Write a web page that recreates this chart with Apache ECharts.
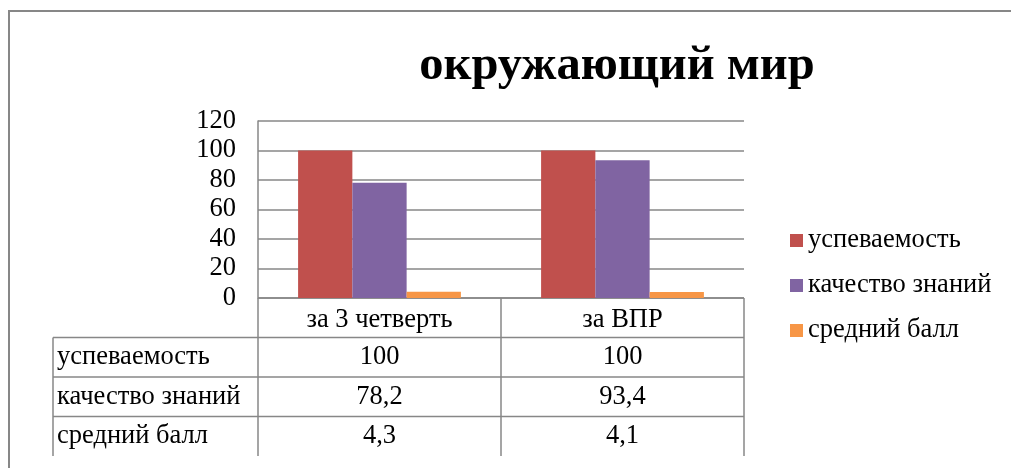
<!DOCTYPE html>
<html>
<head>
<meta charset="utf-8">
<script src="https://cdn.jsdelivr.net/npm/echarts@6/dist/echarts.min.js"></script>
<style>
  html, body { margin: 0; padding: 0; background: #fff; }
  #chart { width: 1011px; height: 468px; }
</style>
</head>
<body>
<div id="chart"></div>
<script>
// данные диаграммы
var titleText = 'окружающий мир';
var categories = ['за 3 четверть', 'за ВПР'];
var seriesNames = ['успеваемость', 'качество знаний', 'средний балл'];
var uspevaemost = [100, 100];
var kachestvo = [78.2, 93.4];
var sredniy = [4.3, 4.1];
var yTicks = [0, 20, 40, 60, 80, 100, 120];

var colors = ['#C0504D', '#8064A2', '#F79646'];
var FONT = "'Liberation Serif', 'Times New Roman', serif";
var LINE = '#878787';
var FS = 26.5;

var values = [uspevaemost, kachestvo, sredniy];

var myChart = echarts.init(document.getElementById('chart'));

var option = {
    animation: false,
    color: colors,
    grid: { left: 258, right: 267, top: 121, bottom: 170, containLabel: false },
    legend: {
        orient: 'vertical',
        left: 785,
        top: 222,
        itemWidth: 13,
        itemHeight: 13,
        itemGap: 18,
        icon: 'rect',
        textStyle: { fontFamily: FONT, fontSize: FS, color: '#000' },
        data: seriesNames
    },
    xAxis: {
        type: 'category',
        data: categories,
        axisLine: { show: false },
        axisTick: { show: false },
        axisLabel: { fontFamily: FONT, fontSize: FS, color: '#000', margin: 9 }
    },
    yAxis: {
        type: 'value',
        min: yTicks[0],
        max: yTicks[yTicks.length - 1],
        interval: yTicks[1] - yTicks[0],
        axisLine: { show: true, lineStyle: { color: LINE, width: 1.5 } },
        axisTick: { show: false },
        splitLine: { lineStyle: { color: LINE, width: 1.5 } },
        axisLabel: { fontFamily: FONT, fontSize: FS, color: '#000', margin: 22 }
    },
    series: seriesNames.map(function (name, i) {
        return {
            name: name,
            type: 'bar',
            data: values[i],
            barGap: '0%',
            barCategoryGap: '33%'
        };
    })
};
myChart.setOption(option);

// таблица данных под осью
function buildTable() {
    var c0 = myChart.convertToPixel({ xAxisIndex: 0 }, 0);
    var c1 = myChart.convertToPixel({ xAxisIndex: 0 }, 1);
    var band = c1 - c0;
    var cols = [c0 - band / 2, c0 + band / 2, c1 + band / 2];
    var yTop = myChart.convertToPixel({ yAxisIndex: 0 }, 0);
    var rowH = 39.5;
    var tableLeft = 53;
    var yBottom = yTop + rowH * (seriesNames.length + 1);
    var els = [];
    var ls = { stroke: LINE, lineWidth: 1.5 };

    // рамка вокруг диаграммы
    els.push({ type: 'rect', shape: { x: 9, y: 11, width: 1200, height: 700 },
        style: { fill: 'none', stroke: LINE, lineWidth: 2 }, silent: true });

    // заголовок
    els.push({ type: 'text', x: 617, y: 66, style: { text: titleText, fontFamily: FONT,
        fontSize: 48.5, fontWeight: 'bold', fill: '#000', align: 'center', verticalAlign: 'middle' } });

    // горизонтальные линии
    els.push({ type: 'line', shape: { x1: cols[0], y1: yTop, x2: cols[2], y2: yTop }, style: ls });
    for (var r = 1; r <= seriesNames.length; r++) {
        var y = yTop + rowH * r;
        els.push({ type: 'line', shape: { x1: tableLeft, y1: y, x2: cols[2], y2: y }, style: ls });
    }
    // вертикальные линии
    els.push({ type: 'line', shape: { x1: tableLeft, y1: yTop + rowH, x2: tableLeft, y2: yBottom }, style: ls });
    cols.forEach(function (x) {
        els.push({ type: 'line', shape: { x1: x, y1: yTop, x2: x, y2: yBottom }, style: ls });
    });

    // текст строк
    seriesNames.forEach(function (name, i) {
        var cy = yTop + rowH * (i + 1.5);
        els.push({ type: 'text', x: tableLeft + 4, y: cy, style: { text: name, fontFamily: FONT,
            fontSize: FS, fill: '#000', align: 'left', verticalAlign: 'middle' } });
        values[i].forEach(function (v, j) {
            els.push({ type: 'text', x: (cols[j] + cols[j + 1]) / 2, y: cy, style: {
                text: String(v).replace('.', ','), fontFamily: FONT, fontSize: FS, fill: '#000',
                align: 'center', verticalAlign: 'middle' } });
        });
    });

    myChart.setOption({ graphic: { elements: els } });
}
buildTable();
</script>
</body>
</html>
